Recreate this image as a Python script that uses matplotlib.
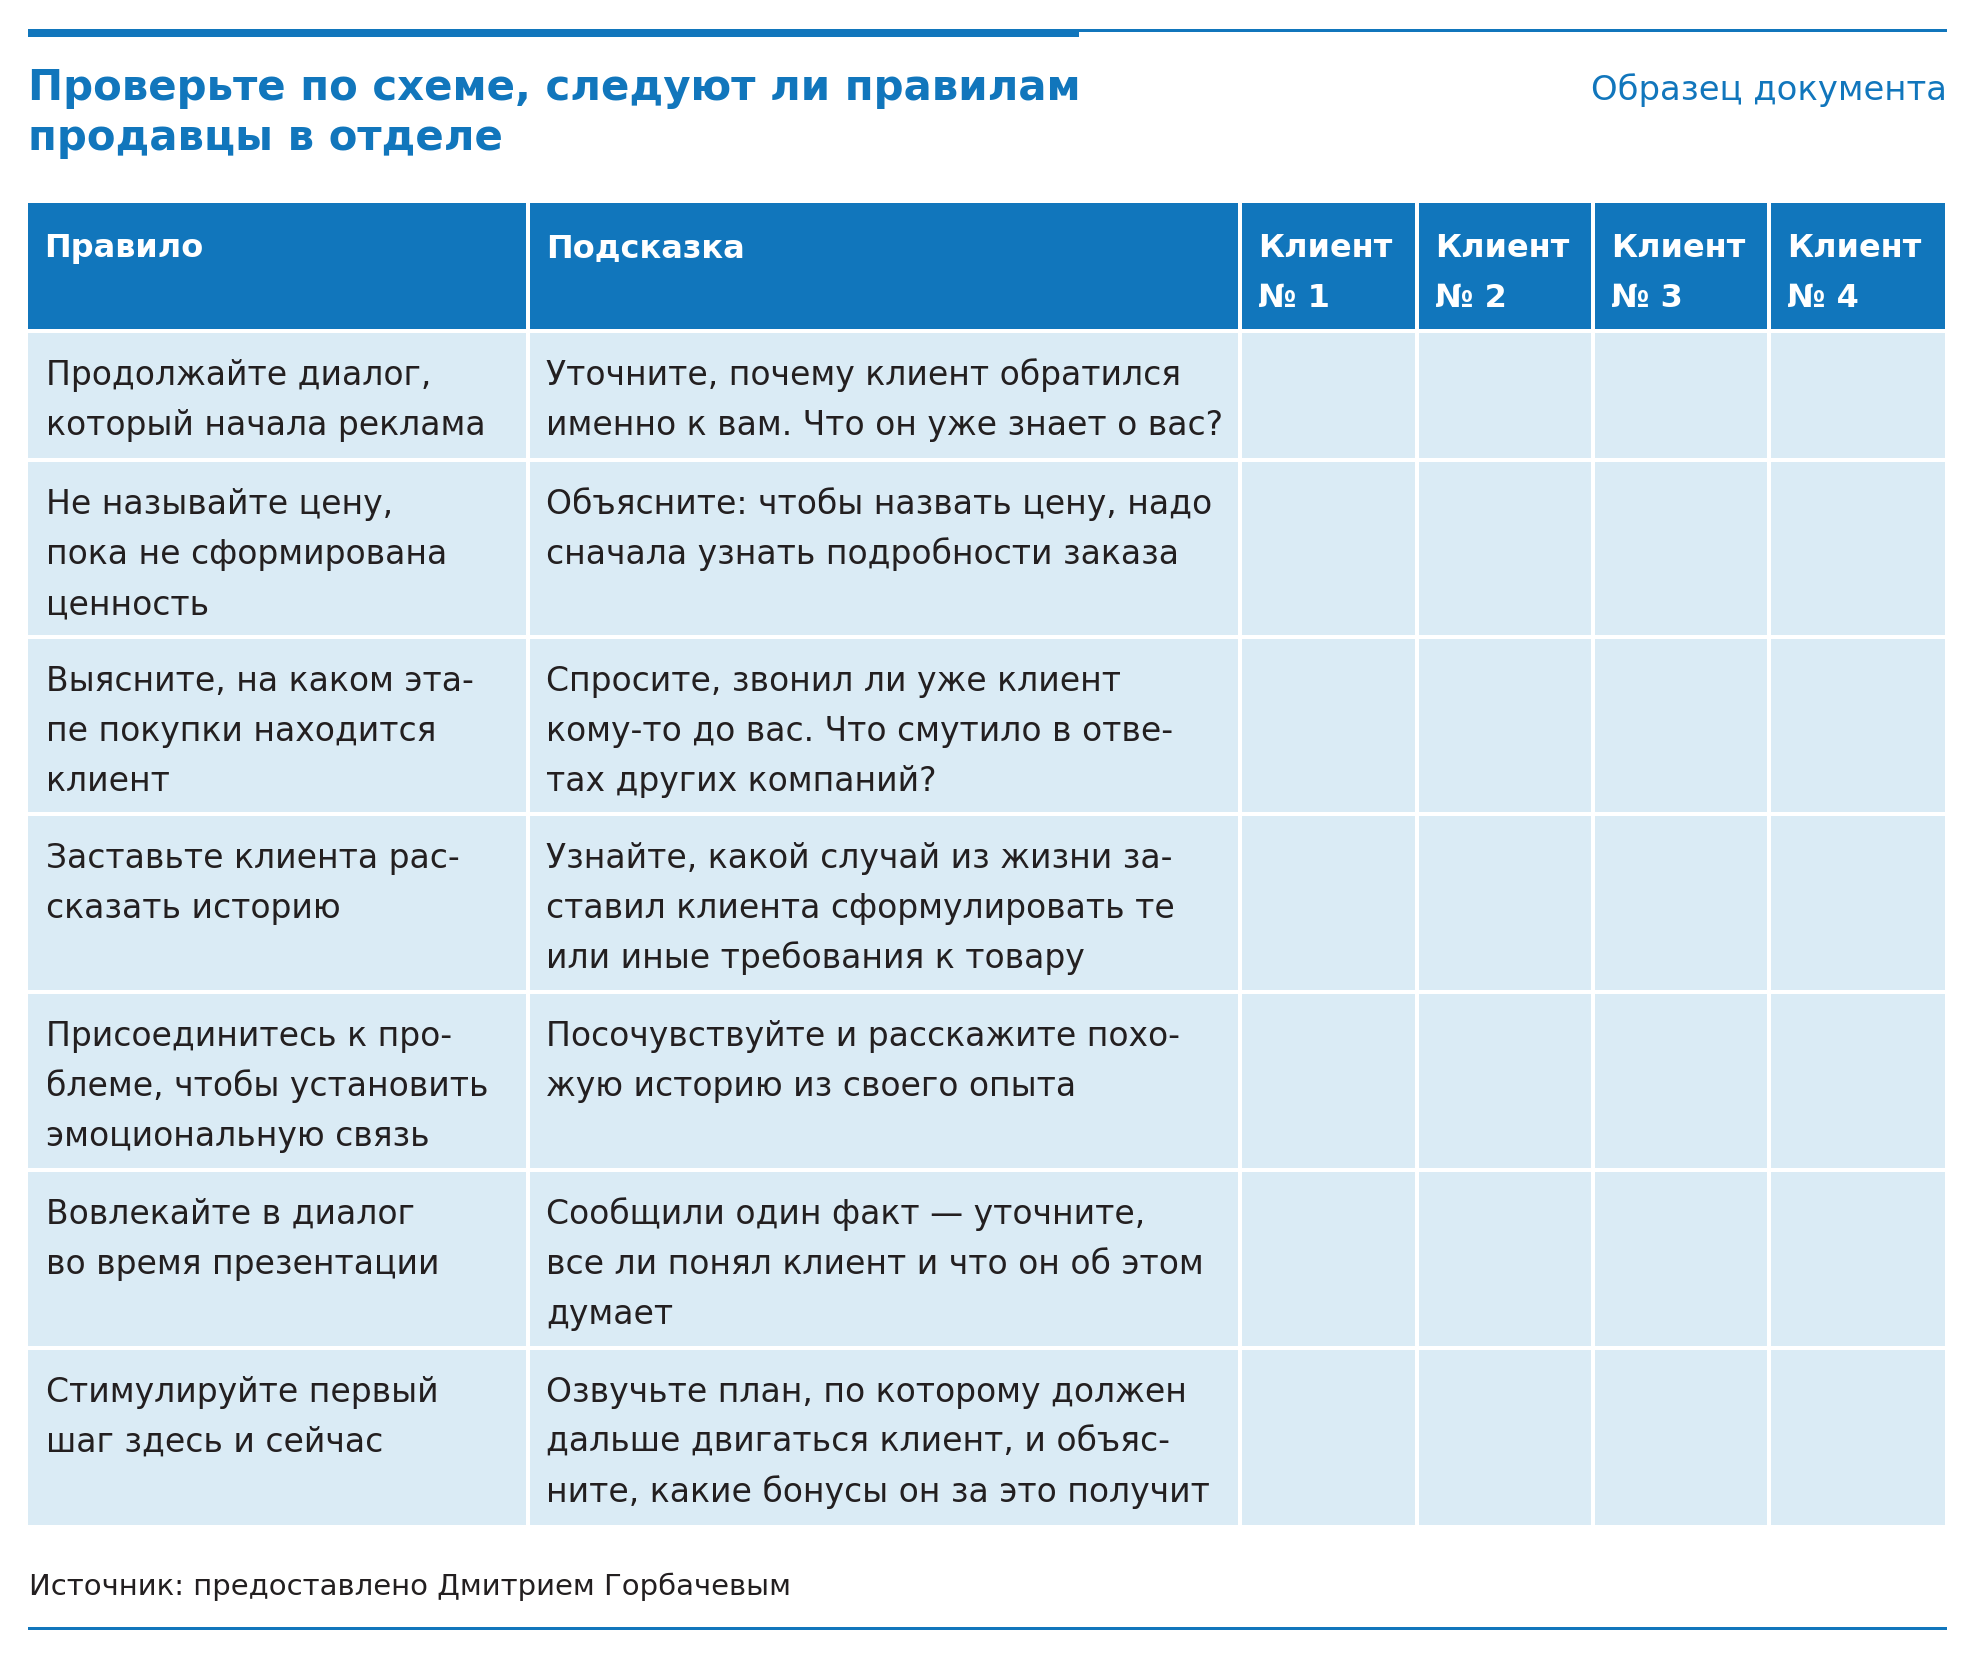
import matplotlib
matplotlib.use("Agg")
import matplotlib.pyplot as plt
from matplotlib.patches import Rectangle

plt.rcParams['font.family'] = ['DejaVu Sans']

title_lines = ["Проверьте по схеме, следуют ли правилам", "продавцы в отделе"]
tag = "Образец документа"
source = "Источник: предоставлено Дмитрием Горбачевым"

headers = ["Правило", "Подсказка", "Клиент\n№ 1", "Клиент\n№ 2", "Клиент\n№ 3", "Клиент\n№ 4"]

rules = [
    "Продолжайте диалог,\nкоторый начала реклама",
    "Не называйте цену,\nпока не сформирована\nценность",
    "Выясните, на каком эта-\nпе покупки находится\nклиент",
    "Заставьте клиента рас-\nсказать историю",
    "Присоединитесь к про-\nблеме, чтобы установить\nэмоциональную связь",
    "Вовлекайте в диалог\nво время презентации",
    "Стимулируйте первый\nшаг здесь и сейчас",
]

hints = [
    "Уточните, почему клиент обратился\nименно к вам. Что он уже знает о вас?",
    "Объясните: чтобы назвать цену, надо\nсначала узнать подробности заказа",
    "Спросите, звонил ли уже клиент\nкому-то до вас. Что смутило в отве-\nтах других компаний?",
    "Узнайте, какой случай из жизни за-\nставил клиента сформулировать те\nили иные требования к товару",
    "Посочувствуйте и расскажите похо-\nжую историю из своего опыта",
    "Сообщили один факт — уточните,\nвсе ли понял клиент и что он об этом\nдумает",
    "Озвучьте план, по которому должен\nдальше двигаться клиент, и объяс-\nните, какие бонусы он за это получит",
]

# layout in pixels
W, H = 1974, 1655
col_edges = [28, 528, 1240, 1417, 1593, 1769, 1945]
row_edges = [203, 331, 460, 637, 814, 992, 1170, 1348, 1525]
gap = 4
blue = "#1176bc"
light = "#daebf5"
dark = "#231f20"
line_h = 50

fig = plt.figure(figsize=(W / 100, H / 100), dpi=100)
ax = fig.add_axes([0, 0, 1, 1])
ax.set_xlim(0, W)
ax.set_ylim(H, 0)
ax.axis("off")

# top rules
ax.add_patch(Rectangle((28, 29), 1051, 8, color=blue, lw=0))
ax.add_patch(Rectangle((1079, 29), 868, 2.5, color=blue, lw=0))
# bottom rule
ax.add_patch(Rectangle((28, 1627), 1919, 2.5, color=blue, lw=0))

for i, ln in enumerate(title_lines):
    ax.text(28, 100 + i * line_h, ln, fontsize=30.2, fontweight="bold", color=blue,
            va="baseline", ha="left")
ax.text(1947, 100, tag, fontsize=24.4, color=blue, va="baseline", ha="right")
ax.text(29, 1595, source, fontsize=21, color=dark, va="baseline", ha="left")


def cell_text(x, top, txt, **kw):
    for i, ln in enumerate(txt.split("\n")):
        ax.text(x + 18, top + 53 + i * line_h, ln, va="baseline", ha="left", **kw)


# header row
for c, h in enumerate(headers):
    x0 = col_edges[c] + (gap / 2 if c > 0 else 0)
    x1 = col_edges[c + 1] - (gap / 2 if c < len(headers) - 1 else 0)
    ax.add_patch(Rectangle((x0, row_edges[0]), x1 - x0, row_edges[1] - row_edges[0] - gap / 2,
                           color=blue, lw=0))
    cell_text(x0 - 2, row_edges[0] + 1, h, fontsize=23, fontweight="bold", color="white")

# body rows
for r in range(len(rules)):
    y0 = row_edges[r + 1] + gap / 2
    y1 = row_edges[r + 2] - (gap / 2 if r < len(rules) - 1 else 0)
    for c in range(len(headers)):
        x0 = col_edges[c] + (gap / 2 if c > 0 else 0)
        x1 = col_edges[c + 1] - (gap / 2 if c < len(headers) - 1 else 0)
        ax.add_patch(Rectangle((x0, y0), x1 - x0, y1 - y0, color=light, lw=0))
    cell_text(col_edges[0], y0 - 1, rules[r], fontsize=23.8, color=dark)
    cell_text(col_edges[1], y0 - 1, hints[r], fontsize=23.8, color=dark)

fig.savefig("out.png", dpi=100)
